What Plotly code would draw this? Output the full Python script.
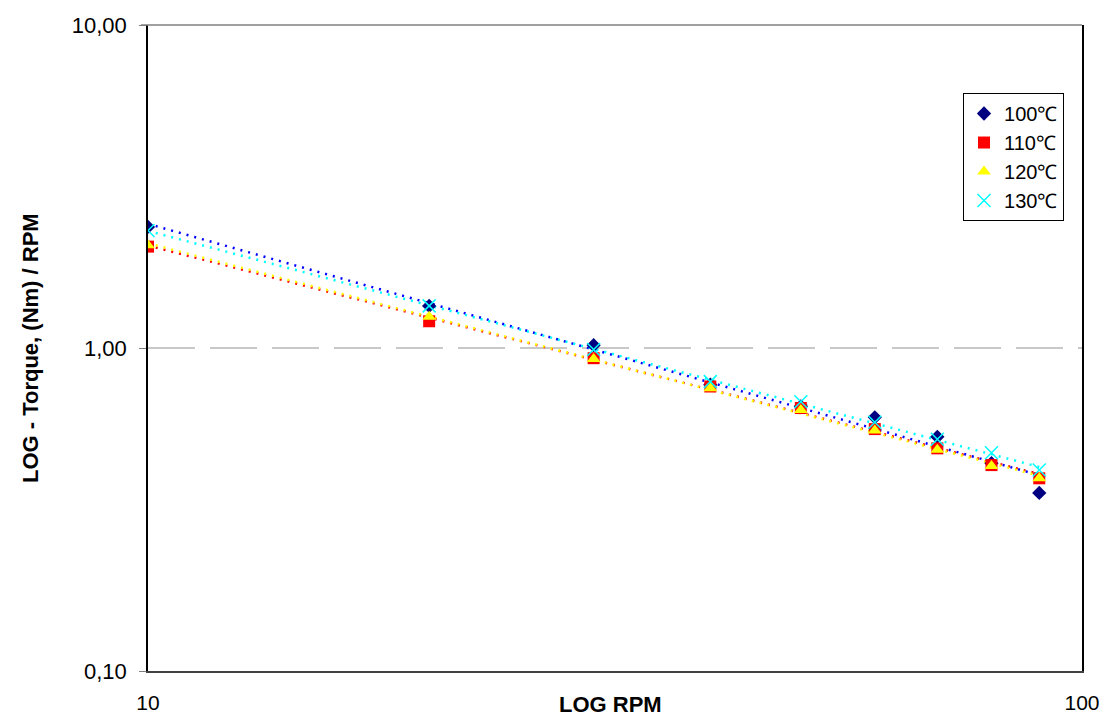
import numpy as np
import plotly.graph_objects as go

rpm = [10, 20, 30, 40, 50, 60, 70, 80, 90]
t100 = [2.37, 1.35, 1.02, 0.77, 0.66, 0.61, 0.531, 0.44, 0.356]
t110 = [2.06, 1.21, 0.93, 0.76, 0.652, 0.561, 0.489, 0.434, 0.395]
t120 = [2.08, 1.25, 0.925, 0.75, 0.643, 0.555, 0.484, 0.431, 0.395]
t130 = [2.31, 1.35, 0.99, 0.787, 0.682, 0.589, 0.522, 0.474, 0.419]

series = [
    ("100℃", t100, "diamond", "#000080", "#0000FF", 11),
    ("110℃", t110, "square", "#FF0000", "#FF0000", 12),
    ("120℃", t120, "triangle-up", "#FFFF00", "#FFFF00", 12),
    ("130℃", t130, "x-thin", "#00FFFF", "#00FFFF", 13),
]

y_ticks = [0.1, 1, 10]
y_ticktext = ["0,10", "1,00", "10,00"]
x_ticks = [10, 100]
x_ticktext = ["10", "100"]

FONT = "Liberation Sans, Arial, sans-serif"

fig = go.Figure()

# power trendlines (fitted from data)
for name, vals, sym, mcol, lcol, size in series:
    b, la = np.polyfit(np.log(rpm), np.log(vals), 1)
    xs = np.geomspace(min(rpm), max(rpm), 40)
    ys = np.exp(la) * xs ** b
    fig.add_trace(go.Scatter(x=xs, y=ys, mode="lines",
                             line=dict(color=lcol, width=2.5, dash="2px,6px"),
                             showlegend=False, hoverinfo="skip"))

for name, vals, sym, mcol, lcol, size in series:
    if sym == "x-thin":
        marker = dict(symbol=sym, size=size, color=mcol, line=dict(color=mcol, width=1.5))
    else:
        marker = dict(symbol=sym, size=size, color=mcol, line=dict(width=0))
    fig.add_trace(go.Scatter(x=rpm, y=vals, mode="markers", name=name, marker=marker))

fig.add_shape(type="line", xref="paper", yref="paper", x0=-0.0075, x1=1, y0=1, y1=1,
              line=dict(color="#808080", width=1.5))

fig.add_annotation(text="<b>LOG RPM</b>", xref="paper", yref="paper", x=0.495, y=-0.0526,
                   xanchor="center", yanchor="middle", showarrow=False,
                   font=dict(size=22, family=FONT, color="black"))
fig.add_annotation(text="<b>LOG - Torque, (Nm) / RPM</b>", xref="paper", yref="paper",
                   x=-0.1263, y=0.5, xanchor="center", yanchor="middle", textangle=-90,
                   showarrow=False, font=dict(size=22, family=FONT, color="black"))

fig.update_layout(
    width=1104, height=717,
    margin=dict(l=148, r=22, t=25, b=46),
    paper_bgcolor="white", plot_bgcolor="white",
    font=dict(family=FONT, size=22, color="black"),
    legend=dict(x=0.8726, y=0.8947, xanchor="left", yanchor="top",
                bordercolor="black", borderwidth=1, bgcolor="white",
                font=dict(size=20), itemwidth=30),
    xaxis=dict(type="log", range=[1, 2], tickvals=x_ticks, ticktext=x_ticktext,
               showgrid=False, showline=True, linecolor="#404040", linewidth=1.5,
               ticks="", ticklabelstandoff=12, zeroline=False, automargin=False,
               tickfont=dict(size=21)),
    yaxis=dict(type="log", range=[-1, 1], tickvals=y_ticks, ticktext=y_ticktext,
               showgrid=True, gridcolor="#C8C8C8", griddash="47px,15px", gridwidth=1.5,
               showline=True, linecolor="black", linewidth=1.5, mirror=True,
               ticks="outside", ticklen=7, tickcolor="#808080", ticklabelstandoff=8,
               zeroline=False, automargin=False),
)

fig.write_html("out.html", config={"displayModeBar": False},
               post_script="document.body.style.margin='0';")
